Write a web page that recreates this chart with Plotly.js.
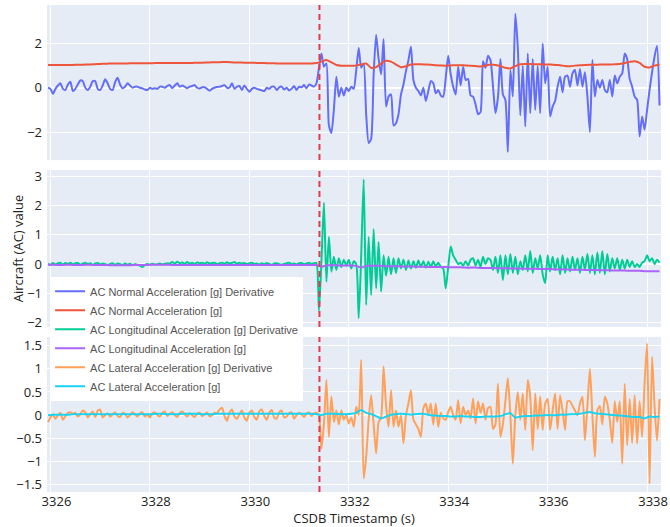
<!DOCTYPE html>
<html>
<head>
<meta charset="utf-8">
<script src="https://cdn.plot.ly/plotly-3.0.1.min.js"></script>
<style>html,body{margin:0;padding:0;background:#fff;}#chart{width:670px;height:527px;}</style>
</head>
<body>
<div id="chart"></div>
<script>
// ---- Data ----
const seriesNames = [
  "AC Normal Acceleration [g] Derivative",
  "AC Normal Acceleration [g]",
  "AC Longitudinal Acceleration [g] Derivative",
  "AC Longitudinal Acceleration [g]",
  "AC Lateral Acceleration [g] Derivative",
  "AC Lateral Acceleration [g]"
];
const tStart = 3325.95;      // first sample (s)
const tStepFast = 0.05;      // derivative signals sample step (s)
const tStepSlow = 0.1;       // acceleration signals sample step (s)
const eventTime = 3331.41;   // marked event (red dashed line)
const xTicks = [3326, 3328, 3330, 3332, 3334, 3336, 3338];

// AC Normal Acceleration [g] Derivative
const normalDeriv = [
  0.0,-0.05,-0.27,-0.05,0.1,0.2,-0.05,-0.1,0.15,0.27,
  -0.15,-0.05,0.15,0.33,0.3,0.0,-0.1,0.05,0.3,0.3,
  -0.05,-0.1,0.1,0.38,0.2,-0.05,-0.1,0.25,0.45,0.15,
  -0.02,0.05,0.2,0.1,0.0,0.05,0.05,0.0,-0.03,-0.08,
  -0.1,0.0,-0.05,-0.02,-0.05,0.05,0.05,0.0,0.08,0.12,
  -0.02,0.1,0.2,0.05,0.1,0.05,-0.02,0.05,0.08,0.12,
  0.0,-0.03,0.02,0.02,-0.05,-0.13,-0.05,0.0,0.03,0.05,
  0.08,0.12,0.0,0.0,0.2,-0.05,0.05,0.08,-0.1,0.1,
  -0.05,-0.18,-0.05,0.0,-0.05,-0.08,-0.12,-0.15,0.0,-0.05,
  0.05,0.05,-0.1,0.02,0.05,-0.08,0.0,-0.12,-0.05,0.08,
  -0.1,0.05,0.02,0.12,-0.02,0.15,0.1,0.05,0.2,
  0.9,1.55,0.95,1.1,-1.7,-2.05,-1.0,0.5,-0.4,0.0,
  -0.35,0.0,-0.15,0.05,-0.05,0.8,1.8,0.9,1.1,-1.2,
  -2.5,-2.3,0.6,2.4,1.3,0.6,2.2,-0.85,-0.4,-0.3,
  -1.7,-1.6,-1.2,-0.3,0.15,0.75,1.25,1.85,0.35,0.0,
  -0.15,-0.35,0.0,-0.6,-0.15,0.3,0.2,-0.25,-0.1,-0.35,
  -0.4,0.45,1.45,0.6,0.05,-0.3,0.95,0.1,0.95,0.35,
  0.4,-0.35,-0.4,-0.75,-1.2,-1.1,1.2,0.9,1.45,1.25,
  0.1,-1.15,-0.45,1.3,-0.3,-0.55,-2.9,0.8,-0.4,3.35,
  1.8,-1.25,1.0,-1.75,1.55,-1.15,1.3,-1.0,1.0,-1.15,
  2.0,0.2,0.95,-1.3,-0.85,-0.6,0.05,0.5,-0.2,0.5,
  0.55,0.05,0.65,0.8,0.1,0.85,0.05,0.7,-0.4,-2.0,
  1.25,-0.4,0.35,0.0,0.35,-0.1,-0.2,0.35,-0.4,0.55,
  0.2,0.5,0.65,1.55,1.3,0.4,0.05,-0.4,-0.55,-2.2,
  -1.3,-1.9,-1.0,-0.1,0.7,1.4,1.9,-0.8
];

// AC Normal Acceleration [g]
const normalAcc = [
  1.03,1.03,1.03,1.03,1.03,1.03,1.04,1.04,1.05,1.06,
  1.07,1.08,1.09,1.1,1.1,1.1,1.1,1.11,1.11,1.11,
  1.11,1.11,1.12,1.12,1.12,1.12,1.12,1.12,1.12,1.12,
  1.13,1.13,1.14,1.15,1.15,1.16,1.16,1.15,1.14,1.14,
  1.13,1.13,1.12,1.12,1.11,1.11,1.1,1.1,1.1,1.1,
  1.1,1.1,1.1,1.1,1.12,1.18,1.25,1.15,1.03,1.0,
  1.0,0.99,1.0,1.05,1.1,0.9,0.93,1.1,1.22,1.18,
  1.05,0.93,0.97,1.05,1.06,1.06,1.05,1.04,1.02,1.01,
  1.0,1.01,1.02,1.02,1.01,1.0,0.98,0.96,1.0,1.05,
  1.03,0.98,0.9,0.87,0.98,1.06,1.07,1.07,1.06,1.06,
  1.05,1.05,1.03,1.02,0.98,0.97,1.0,1.02,1.03,1.04,
  1.04,1.05,1.05,1.05,1.06,1.07,1.12,1.17,1.2,1.12,
  0.95,0.92,1.0,1.05
];

// AC Longitudinal Acceleration [g] Derivative
const longDeriv = [
  0.02,-0.03,0.04,-0.02,0.03,0.05,-0.02,0.04,0.01,0.05,
  -0.01,0.03,0.04,-0.02,0.02,0.05,0.0,0.03,-0.03,0.02,
  0.04,-0.01,0.02,0.0,-0.03,0.01,0.03,-0.02,0.02,0.0,
  -0.03,0.02,-0.02,0.01,-0.04,0.0,-0.02,-0.05,-0.1,-0.03,
  0.0,-0.02,0.01,-0.01,0.0,0.02,-0.01,0.01,0.03,0.02,
  0.07,0.02,0.08,0.03,0.06,0.01,0.07,0.02,0.05,0.0,
  0.06,0.03,0.05,0.01,0.06,0.02,0.04,0.05,0.0,0.03,
  0.05,0.01,0.06,0.02,0.04,0.07,0.01,0.05,0.02,0.04,
  0.0,0.03,0.05,0.01,0.02,-0.01,0.03,0.0,0.04,0.01,
  -0.02,0.02,0.03,0.0,-0.02,0.01,0.03,0.05,0.0,0.02,
  -0.01,0.03,0.04,0.0,0.02,0.05,0.01,0.03,0.04,
  -1.6,0.1,2.1,-0.6,0.93,-0.26,0.25,-0.2,0.2,-0.1,
  0.15,-0.05,0.15,-0.15,0.1,0.0,-1.85,0.3,2.9,-1.4,
  0.93,-1.06,1.2,-0.83,0.76,-0.94,0.3,-0.4,0.25,-0.35,
  0.2,-0.3,0.2,-0.15,0.15,-0.2,0.12,-0.15,0.1,-0.12,
  0.12,-0.1,0.1,-0.12,0.08,-0.1,0.1,-0.08,0.05,-0.1,
  -0.15,-0.83,-0.1,0.6,0.3,0.15,0.0,0.05,-0.05,0.1,
  -0.05,0.15,0.2,-0.05,0.15,-0.1,0.25,0.0,0.2,0.15,
  -0.2,0.25,-0.3,0.3,-0.55,0.3,-0.35,0.35,-0.3,0.25,
  -0.35,0.1,-0.2,0.3,-0.25,0.45,-0.3,0.2,-0.15,0.3,
  -0.35,-0.65,0.3,-0.25,0.25,-0.2,0.2,-0.35,0.3,-0.3,
  0.2,-0.25,0.25,-0.2,0.2,-0.3,0.25,-0.2,0.35,-0.3,
  0.3,-0.35,0.4,-0.3,0.45,-0.35,0.35,-0.25,0.2,-0.15,
  0.2,-0.2,0.15,-0.15,0.15,-0.1,0.1,-0.1,0.0,-0.1,
  0.05,0.1,0.3,0.1,0.2,0.0,0.15,0.05
];

// AC Longitudinal Acceleration [g]
const longAcc = [
  -0.02,-0.02,-0.03,-0.03,-0.02,-0.03,-0.03,-0.03,-0.02,-0.03,
  -0.03,-0.03,-0.03,-0.04,-0.04,-0.04,-0.04,-0.03,-0.03,-0.03,
  -0.03,-0.02,-0.02,-0.02,-0.02,-0.03,-0.03,-0.03,-0.03,-0.03,
  -0.03,-0.03,-0.03,-0.03,-0.03,-0.03,-0.03,-0.03,-0.03,-0.03,
  -0.03,-0.03,-0.03,-0.03,-0.03,-0.03,-0.03,-0.03,-0.03,-0.03,
  -0.03,-0.03,-0.03,-0.03,-0.03,-0.09,-0.04,-0.04,-0.04,-0.05,
  -0.05,-0.05,-0.06,-0.12,-0.06,-0.06,-0.06,-0.06,-0.07,-0.07,
  -0.07,-0.08,-0.08,-0.08,-0.09,-0.09,-0.09,-0.1,-0.1,-0.1,
  -0.1,-0.11,-0.11,-0.11,-0.12,-0.12,-0.12,-0.13,-0.13,-0.13,
  -0.14,-0.14,-0.14,-0.15,-0.15,-0.15,-0.16,-0.16,-0.16,-0.17,
  -0.17,-0.17,-0.18,-0.18,-0.18,-0.19,-0.19,-0.19,-0.2,-0.2,
  -0.2,-0.21,-0.21,-0.21,-0.22,-0.22,-0.22,-0.23,-0.23,-0.23,
  -0.24,-0.24,-0.24,-0.24
];

// AC Lateral Acceleration [g] Derivative
const latDeriv = [
  -0.15,-0.05,0.02,-0.08,0.0,0.05,-0.1,-0.02,0.05,0.06,
  0.03,0.05,-0.03,0.02,0.1,0.06,-0.05,0.02,0.08,-0.04,
  0.1,0.12,-0.05,0.0,0.04,-0.03,0.02,0.06,-0.02,-0.04,
  0.05,0.03,-0.05,0.0,0.06,0.02,-0.03,0.04,0.06,-0.03,
  0.02,-0.05,0.04,0.06,0.0,-0.03,0.05,0.08,-0.02,0.03,
  0.06,0.0,-0.04,0.05,0.08,0.02,-0.03,0.04,0.0,-0.04,
  0.03,0.05,-0.02,0.02,0.06,-0.03,0.0,0.05,0.04,0.12,
  0.16,-0.02,-0.12,0.05,0.12,-0.03,-0.08,0.02,0.1,-0.05,
  -0.12,0.05,0.1,-0.04,-0.1,0.08,0.12,-0.02,-0.1,0.05,
  0.11,-0.06,-0.08,0.06,0.1,-0.05,-0.03,0.04,0.06,-0.08,
  0.0,0.05,0.02,-0.04,0.03,0.06,-0.02,0.04,0.05,
  0.0,-0.72,-0.2,0.76,-0.47,0.4,-0.15,0.1,-0.2,0.1,
  -0.1,0.0,-0.18,-0.05,-0.25,0.18,0.0,1.19,-1.37,-0.9,
  -0.1,0.43,-0.2,-0.83,-0.15,-0.05,1.05,0.2,-0.25,0.54,
  -0.25,0.1,-0.25,0.0,-0.61,0.0,0.25,0.54,-0.1,-0.2,
  -0.3,-0.47,0.15,0.25,0.0,0.25,-0.2,0.25,-0.25,0.05,
  -0.07,-0.1,0.07,0.18,0.0,-0.1,0.32,-0.18,0.18,0.0,
  0.1,-0.07,0.36,-0.18,0.3,0.05,0.25,-0.1,0.15,0.18,
  -0.3,-0.2,0.68,-0.47,-0.2,0.3,0.8,0.0,-1.05,0.0,
  0.5,-0.1,0.47,-0.32,0.76,0.4,-0.76,0.47,-0.3,0.4,
  -0.32,0.25,0.35,-0.32,0.1,0.47,-0.3,0.43,0.1,-0.32,
  0.3,0.3,0.2,0.1,0.0,0.25,0.4,-0.54,0.2,1.0,
  0.0,-0.9,0.1,0.2,-0.2,0.4,0.25,-0.1,-0.6,0.3,
  -0.15,0.3,-1.05,0.68,-0.65,0.35,-0.6,0.43,-0.61,0.3,
  -0.47,0.68,1.55,-1.48,1.26,0.2,-0.55,0.35
];

// AC Lateral Acceleration [g]
const latAcc = [
  0.0,0.01,0.01,0.01,0.01,0.02,0.02,0.02,0.02,0.02,
  0.02,0.02,0.02,0.02,0.02,0.02,0.02,0.02,0.02,0.02,
  0.02,0.02,0.03,0.03,0.02,0.02,0.02,0.03,0.03,0.03,
  0.03,0.02,0.02,0.02,0.03,0.03,0.03,0.03,0.03,0.03,
  0.03,0.03,0.03,0.03,0.03,0.03,0.03,0.03,0.03,0.03,
  0.03,0.03,0.03,0.03,0.02,0.0,0.03,0.03,0.03,0.02,
  0.02,0.03,0.05,0.11,0.05,0.02,-0.02,-0.07,-0.03,0.01,
  0.02,0.03,0.02,0.01,0.02,0.03,0.02,0.0,-0.01,-0.02,
  -0.02,-0.03,-0.03,-0.02,-0.03,-0.03,-0.04,-0.04,-0.03,-0.03,
  -0.03,-0.02,0.02,0.04,-0.05,-0.03,-0.02,-0.02,-0.01,-0.01,
  0.0,0.0,0.0,0.01,0.01,0.02,0.02,0.03,0.05,0.07,
  0.04,0.03,0.02,0.01,0.0,-0.01,-0.02,-0.03,-0.04,-0.04,
  -0.07,-0.03,-0.04,-0.03
];

// ---- Build ----
function timeAxis(n, step) {
  const out = [];
  for (let i = 0; i < n; i++) out.push(+(tStart + i * step).toFixed(3));
  return out;
}
const tFast = timeAxis(normalDeriv.length, tStepFast);
const tSlow = timeAxis(normalAcc.length, tStepSlow);

const colors = ['#636efa', '#EF553B', '#00cc96', '#ab63fa', '#FFA15A', '#19d3f3'];
const seriesData = [
  [tFast, normalDeriv, 'x', 'y'],
  [tSlow, normalAcc, 'x', 'y'],
  [tFast, longDeriv, 'x2', 'y2'],
  [tSlow, longAcc, 'x2', 'y2'],
  [tFast, latDeriv, 'x3', 'y3'],
  [tSlow, latAcc, 'x3', 'y3']
];
const traces = seriesData.map((s, i) => ({
  type: 'scatter', mode: 'lines',
  x: s[0], y: s[1], xaxis: s[2], yaxis: s[3],
  name: seriesNames[i],
  line: { color: colors[i], width: 2, shape: 'spline', smoothing: 0.6 }
}));

const tickFont = { family: 'Open Sans, sans-serif', size: 13, color: '#222' };
const xRange = [3325.93, 3338.28];
const baseX = {
  range: xRange, tickvals: xTicks, showgrid: true, gridcolor: 'white', gridwidth: 1,
  zeroline: false, showline: false, ticks: '', tickfont: tickFont
};
const baseY = {
  showgrid: true, gridcolor: 'white', gridwidth: 1, zeroline: true,
  zerolinecolor: 'white', zerolinewidth: 2, showline: false, ticks: '',
  tickfont: tickFont, ticklabelstandoff: 4
};

const vline = (yref) => ({
  type: 'line', xref: 'x', yref: yref, x0: eventTime, x1: eventTime, y0: 0, y1: 1,
  line: { color: '#e8394a', width: 2, dash: '6px,4px' }
});

const layout = {
  width: 670, height: 527,
  margin: { l: 47, r: 9, t: 5, b: 35 },
  paper_bgcolor: 'white', plot_bgcolor: '#E5ECF6',
  font: { family: 'Open Sans, sans-serif', size: 13, color: '#222' },
  showlegend: true,
  legend: {
    x: 0.005, y: 0.442, xanchor: 'left', yanchor: 'top',
    bgcolor: 'white', borderwidth: 0,
    font: { family: 'Liberation Sans, Arial, sans-serif', size: 11, color: '#555' },
    tracegroupgap: 0
  },
  xaxis: Object.assign({}, baseX, { anchor: 'y', matches: 'x3', showticklabels: false }),
  xaxis2: Object.assign({}, baseX, { anchor: 'y2', matches: 'x3', showticklabels: false }),
  xaxis3: Object.assign({}, baseX, {
    anchor: 'y3', showticklabels: true, ticklabelshift: 6,
    title: { text: 'CSDB Timestamp (s)', font: { size: 13, color: '#222' }, standoff: 2 }
  }),
  yaxis: Object.assign({}, baseY, { domain: [0.6815, 1], range: [-3.27, 3.74], tickvals: [-2, 0, 2] }),
  yaxis2: Object.assign({}, baseY, {
    domain: [0.339, 0.661], range: [-2.15, 3.22], tickvals: [-2, -1, 0, 1, 2, 3],
    title: { text: 'Aircraft (AC) value', font: { size: 13, color: '#222' }, standoff: 0 }
  }),
  yaxis3: Object.assign({}, baseY, {
    domain: [0, 0.3185], range: [-1.66, 1.69], tickvals: [-1.5, -1, -0.5, 0, 0.5, 1, 1.5]
  }),
  shapes: [vline('y domain'), vline('y2 domain'), vline('y3 domain')]
};

Plotly.newPlot('chart', traces, layout, { displayModeBar: false, responsive: false });
</script>
</body>
</html>
